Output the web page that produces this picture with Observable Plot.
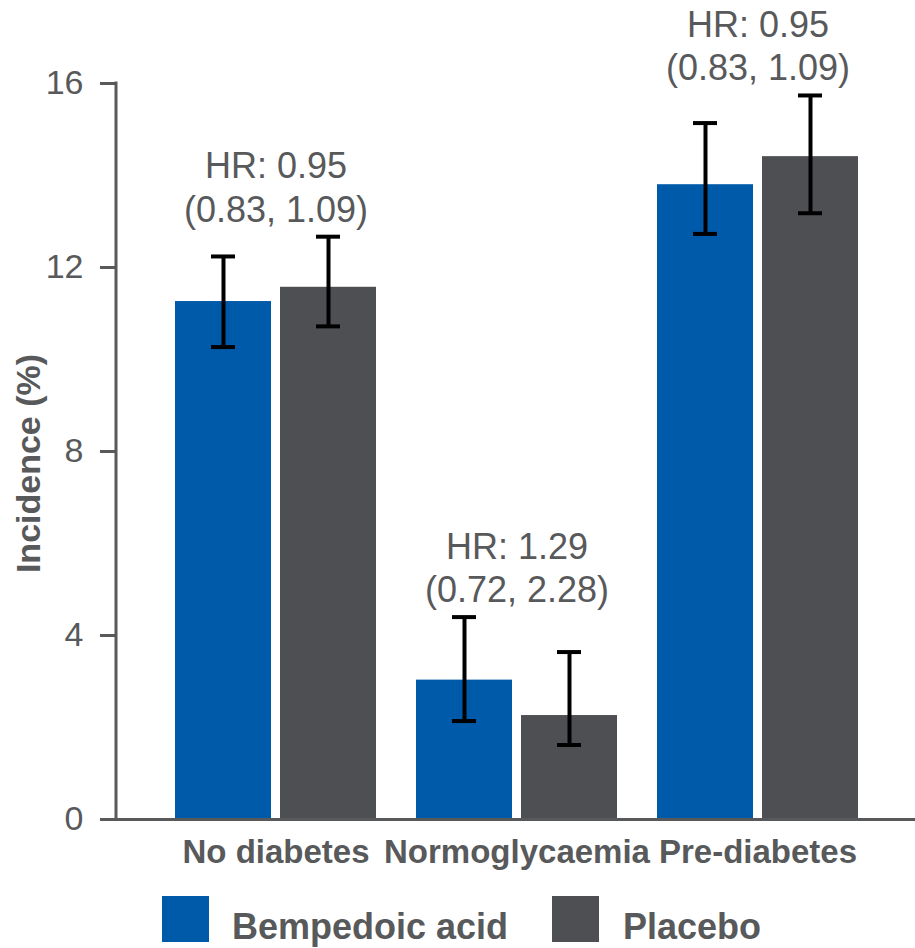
<!DOCTYPE html>
<html>
<head>
<meta charset="utf-8">
<script src="https://cdn.jsdelivr.net/npm/d3@7"></script>
<script src="https://cdn.jsdelivr.net/npm/@observablehq/plot@0.6"></script>
<style>
  html, body { margin: 0; padding: 0; background: #fff; }
  #wrap { position: relative; width: 915px; height: 948px; overflow: hidden; font-family: "Liberation Sans", Arial, sans-serif; }
  #chart svg [aria-label^="x-axis"] text { font-size: 33px; font-weight: bold; fill: #58595B; }
  #chart svg [aria-label^="y-axis"] text { font-size: 34px; fill: #58595B; }
  #chart svg [aria-label^="y-axis"] line,
  #chart svg [aria-label^="y-axis"] path { stroke: #58595B !important; stroke-width: 3px !important; }
  .lg-sw { position: absolute; top: 896px; width: 47px; height: 46px; }
  .lg-tx { position: absolute; top: 909px; font-size: 36px; line-height: 36px; font-weight: bold; color: #58595B; white-space: nowrap; }
</style>
</head>
<body>
<div id="wrap">
  <div id="chart"></div>
  <div id="legend"></div>
</div>
<script>
// ---- data ----
const groups = ["No diabetes", "Normoglycaemia", "Pre-diabetes"];
const treatments = ["Bempedoic acid", "Placebo"];
const colors = ["#005AAA", "#4E4F53"];
const bempedoic = [11.26, 3.03, 13.80];
const bempedoicLow = [10.27, 2.14, 12.73];
const bempedoicHigh = [12.24, 4.40, 15.14];
const placebo = [11.57, 2.26, 14.41];
const placeboLow = [10.72, 1.62, 13.18];
const placeboHigh = [12.67, 3.64, 15.74];
const hrLabels = ["HR: 0.95\n(0.83, 1.09)", "HR: 1.29\n(0.72, 2.28)", "HR: 0.95\n(0.83, 1.09)"];
const yTicks = [0, 4, 8, 12, 16];
const yLabel = "Incidence (%)";

// ---- tables built from arrays ----
const bData = groups.map((g, i) => ({group: g, value: bempedoic[i], low: bempedoicLow[i], high: bempedoicHigh[i]}));
const pData = groups.map((g, i) => ({group: g, value: placebo[i], low: placeboLow[i], high: placeboHigh[i]}));
const annData = groups.map((g, i) => ({group: g, y: Math.max(bempedoicHigh[i], placeboHigh[i]), text: hrLabels[i]}));

const BAND = 201;      // bandwidth of each group (px)
const BAR = 96;        // bar width
const OFF = 52.5;      // offset of bar centre from group centre
const CAP = 24;        // error cap width
const capInset = (BAND - CAP) / 2;
const AXIS = "#58595B";

const errMarks = (data, dx) => [
  Plot.ruleX(data, {x: "group", y1: "low", y2: "high", dx, stroke: "#000", strokeWidth: 4}),
  Plot.tickY(data, {x: "group", y: "high", dx, insetLeft: capInset, insetRight: capInset, stroke: "#000", strokeWidth: 4}),
  Plot.tickY(data, {x: "group", y: "low", dx, insetLeft: capInset, insetRight: capInset, stroke: "#000", strokeWidth: 4})
];

const hasAxisMarks = typeof Plot.axisY === "function";
const yAxisMarks = hasAxisMarks
  ? [Plot.axisY({ticks: yTicks, tickSize: 16, tickPadding: 17, tickFormat: d => String(d), label: null,
      fontSize: 34, stroke: AXIS, strokeWidth: 3, fill: AXIS})]
  : [];

// vertical axis line drawn from the y scale
const yAxisLine = (index, scales, values, dimensions) => {
  const y = scales.y;
  const [d0, d1] = y.domain ? y.domain() : [0, 16];
  const line = document.createElementNS("http://www.w3.org/2000/svg", "line");
  line.setAttribute("x1", dimensions.marginLeft);
  line.setAttribute("x2", dimensions.marginLeft);
  line.setAttribute("y1", y(d1) - 1.5);
  line.setAttribute("y2", y(d0));
  line.setAttribute("stroke", AXIS);
  line.setAttribute("stroke-width", 3);
  return line;
};

const chart = Plot.plot({
  width: 915,
  height: 880,
  marginTop: 83,
  marginBottom: 61,
  marginLeft: 116,
  marginRight: 0,
  style: {fontFamily: '"Liberation Sans", Arial, sans-serif', color: AXIS, background: "white", overflow: "visible"},
  x: {domain: groups, range: [175, 858], paddingInner: 0.166, paddingOuter: 0, align: 0.5,
      tickSize: 0, tickPadding: 20, label: null},
  y: {domain: [0, 16], ticks: yTicks, tickSize: 16, tickPadding: 17, tickFormat: d => String(d), label: null,
      ...(hasAxisMarks ? {axis: null} : {})},
  marks: [
    ...yAxisMarks,
    Plot.barY(bData, {x: "group", y: "value", fill: colors[0], insetRight: BAND - BAR, insetLeft: 0}),
    Plot.barY(pData, {x: "group", y: "value", fill: colors[1], insetLeft: BAND - BAR, insetRight: 0}),
    ...errMarks(bData, -OFF),
    ...errMarks(pData, OFF),
    yAxisLine,
    Plot.ruleY([0], {stroke: AXIS, strokeWidth: 3}),
    Plot.text(annData, {x: "group", y: "y", text: "text", lineAnchor: "bottom", lineHeight: 1.2, dy: -15,
      fontSize: 36, fill: AXIS}),
    Plot.text([yLabel], {frameAnchor: "left", textAnchor: "middle", rotate: -90, dx: -87, dy: 12,
      fontSize: 34, fontWeight: "bold", fill: AXIS})
  ]
});
document.getElementById("chart").appendChild(chart);

// ---- legend ----
const legend = document.getElementById("legend");
const swX = [162, 552];
const txX = [232, 623];
treatments.forEach((t, i) => {
  const sw = document.createElement("div");
  sw.className = "lg-sw";
  sw.style.left = swX[i] + "px";
  sw.style.background = colors[i];
  legend.appendChild(sw);
  const tx = document.createElement("div");
  tx.className = "lg-tx";
  tx.style.left = txX[i] + "px";
  tx.textContent = t;
  legend.appendChild(tx);
});
</script>
</body>
</html>
